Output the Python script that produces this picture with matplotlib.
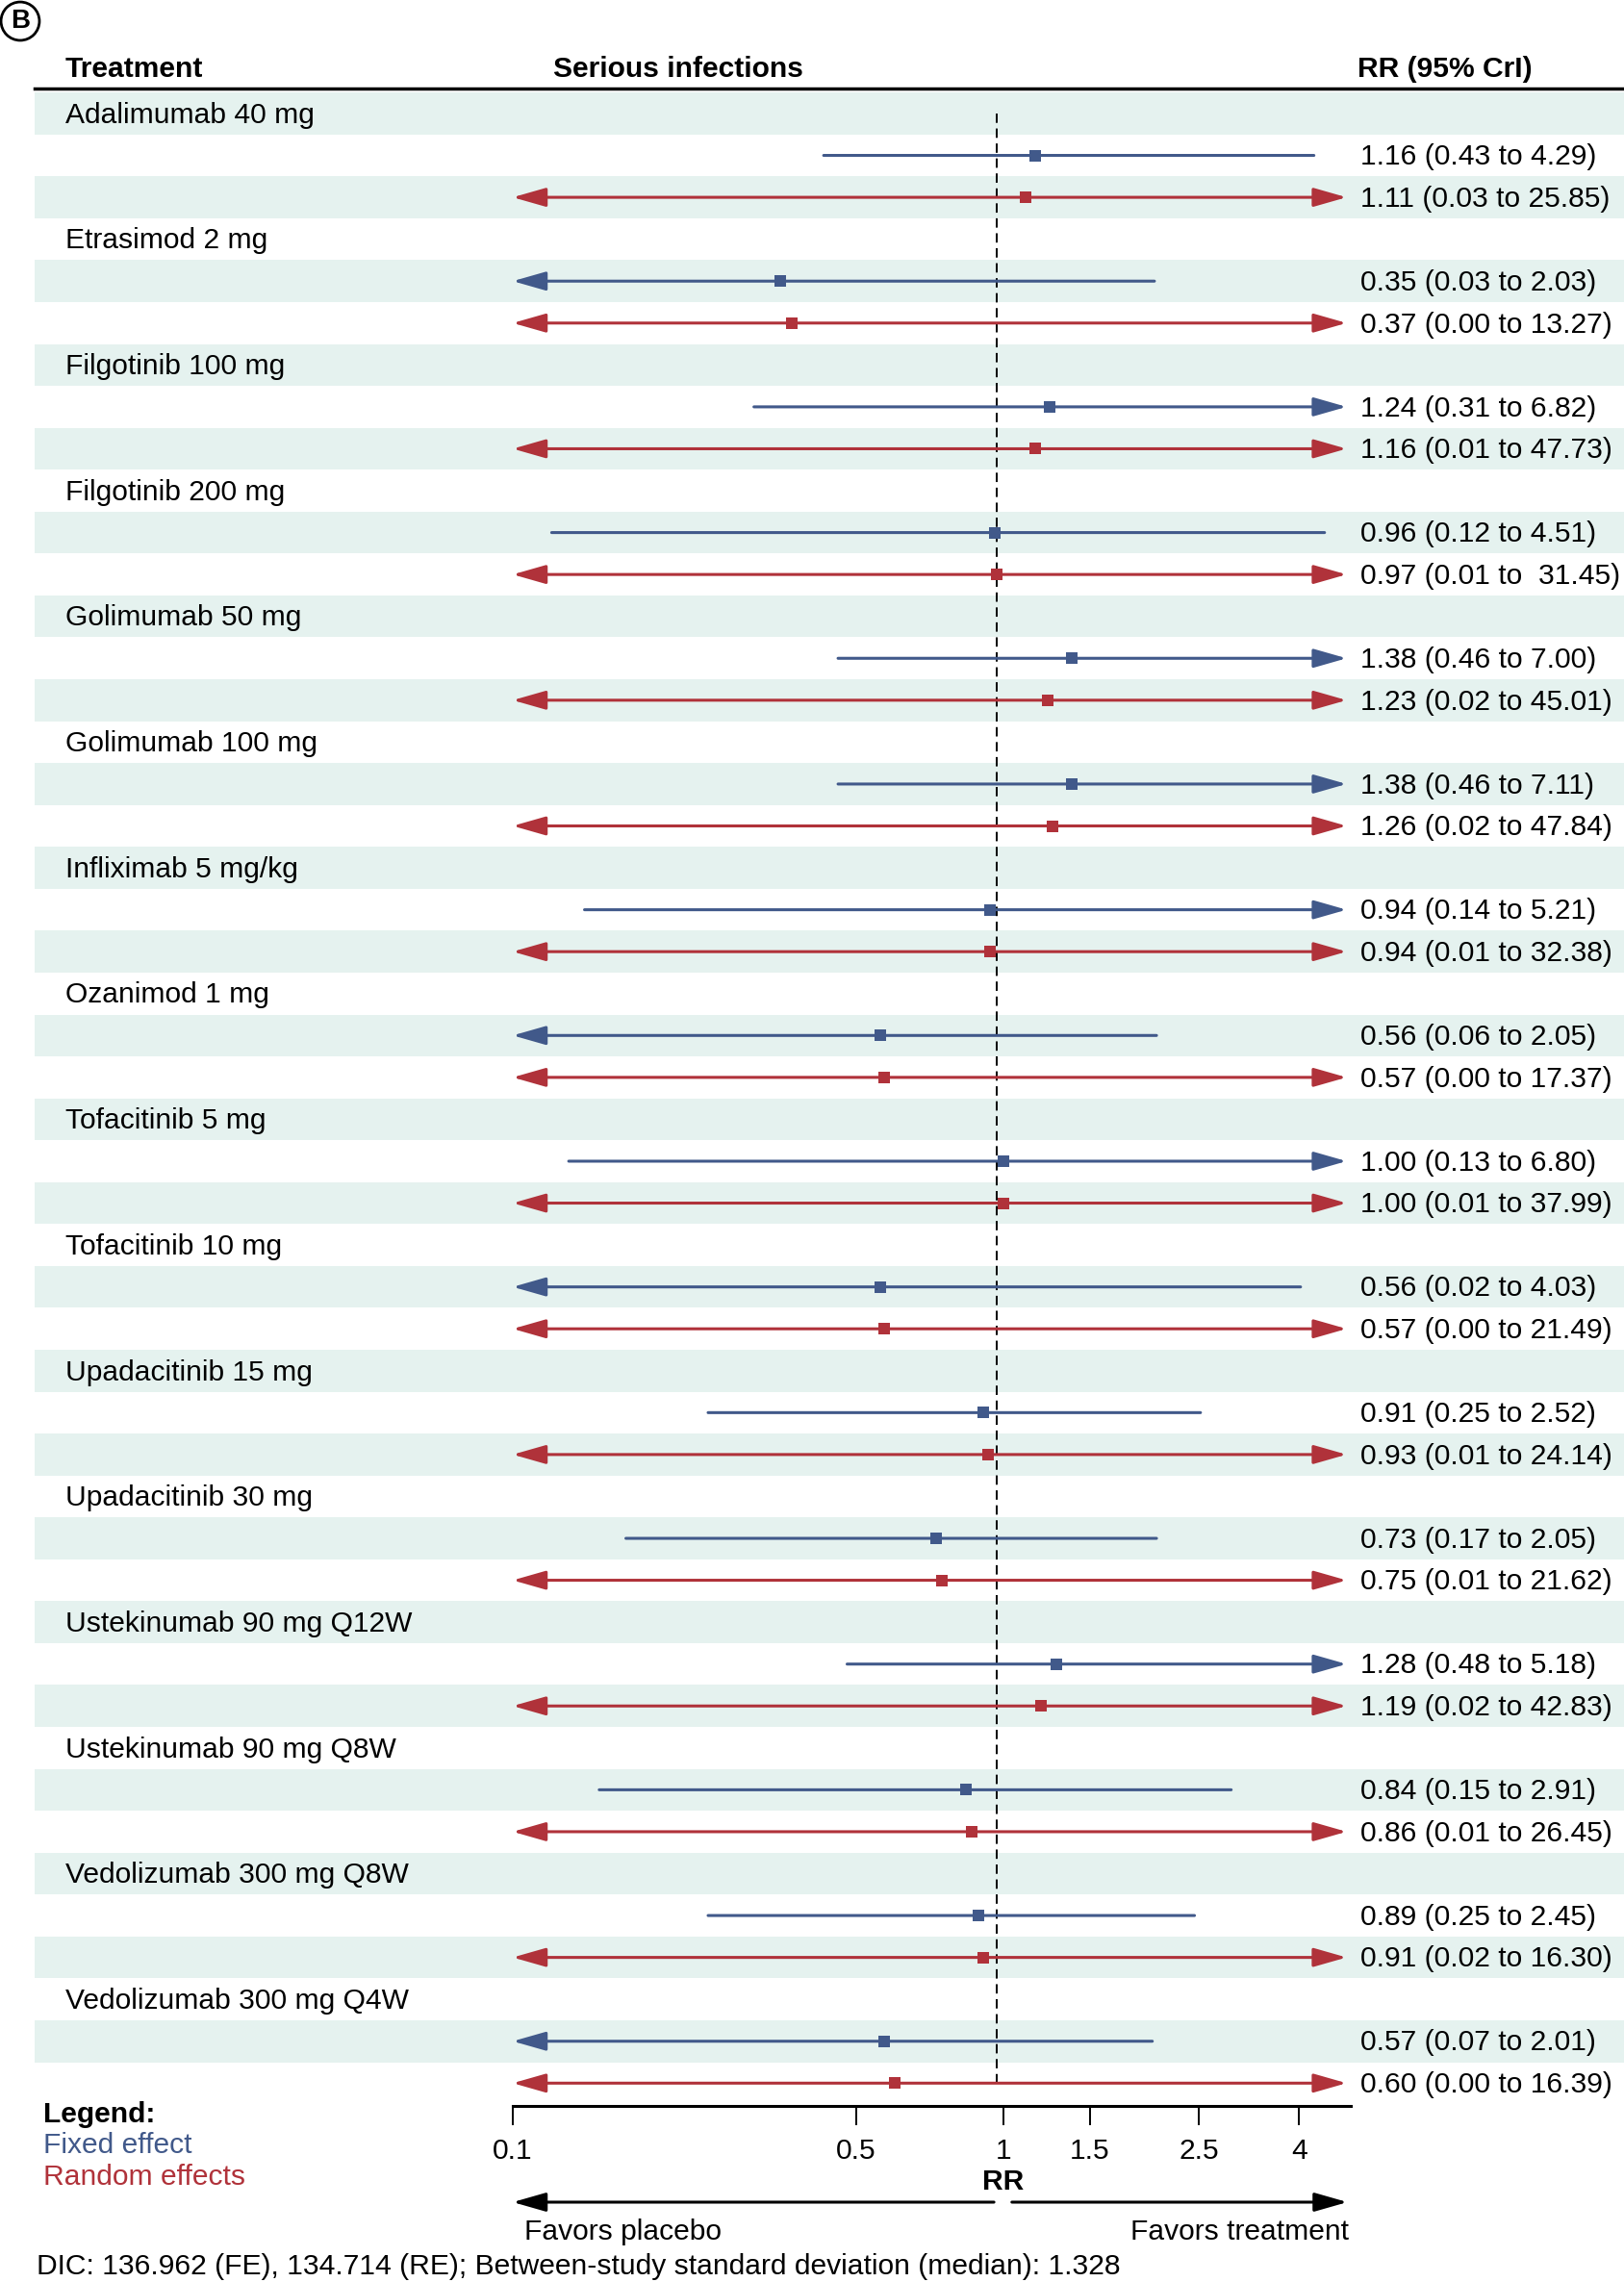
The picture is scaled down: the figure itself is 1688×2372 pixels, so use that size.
import numpy as np
import matplotlib.pyplot as plt
from matplotlib import transforms
from matplotlib.lines import Line2D
from matplotlib.ticker import NullLocator

plt.rcParams['font.family'] = ['Liberation Sans', 'DejaVu Sans']

treatments = ['Adalimumab 40 mg', 'Etrasimod 2 mg', 'Filgotinib 100 mg', 'Filgotinib 200 mg',
              'Golimumab 50 mg', 'Golimumab 100 mg', 'Infliximab 5 mg/kg', 'Ozanimod 1 mg',
              'Tofacitinib 5 mg', 'Tofacitinib 10 mg', 'Upadacitinib 15 mg', 'Upadacitinib 30 mg',
              'Ustekinumab 90 mg Q12W', 'Ustekinumab 90 mg Q8W', 'Vedolizumab 300 mg Q8W',
              'Vedolizumab 300 mg Q4W']

# fixed effect
fe_rr = [1.16, 0.35, 1.24, 0.96, 1.38, 1.38, 0.94, 0.56, 1.00, 0.56, 0.91, 0.73, 1.28, 0.84, 0.89, 0.57]
fe_lo = [0.43, 0.03, 0.31, 0.12, 0.46, 0.46, 0.14, 0.06, 0.13, 0.02, 0.25, 0.17, 0.48, 0.15, 0.25, 0.07]
fe_hi = [4.29, 2.03, 6.82, 4.51, 7.00, 7.11, 5.21, 2.05, 6.80, 4.03, 2.52, 2.05, 5.18, 2.91, 2.45, 2.01]

# random effects
re_rr = [1.11, 0.37, 1.16, 0.97, 1.23, 1.26, 0.94, 0.57, 1.00, 0.57, 0.93, 0.75, 1.19, 0.86, 0.91, 0.60]
re_lo = [0.03, 0.00, 0.01, 0.01, 0.02, 0.02, 0.01, 0.00, 0.01, 0.00, 0.01, 0.01, 0.02, 0.01, 0.02, 0.00]
re_hi = [25.85, 13.27, 47.73, 31.45, 45.01, 47.84, 32.38, 17.37, 37.99, 21.49, 24.14, 21.62, 42.83,
         26.45, 16.30, 16.39]

fe_text = ['%.2f (%.2f to %.2f)' % v for v in zip(fe_rr, fe_lo, fe_hi)]
re_text = ['%.2f (%.2f to %.2f)' % v for v in zip(re_rr, re_lo, re_hi)]
re_text[3] = '0.97 (0.01 to  31.45)'

tick_vals = [0.1, 0.5, 1, 1.5, 2.5, 4]
tick_labels = ['0.1', '0.5', '1', '1.5', '2.5', '4']

blue = '#41598a'
red = '#b0323a'
shade = '#e5f2ef'
fs = 21.6

W, H = 1688, 2372
fig = plt.figure(figsize=(W / 100, H / 100), dpi=100)

# layout (pixels)
row_h = 43.56
y_top = 96.2
x0_px, x1_px = 533, 1404
x_min, x_max = 0.1, 5.1
clip_lo, clip_hi = 0.1, 5.0
n_rows = 3 * len(treatments)
y_last = 47.55
ax_bot_px = y_top + (y_last + 0.5) * row_h
txt_dy = 0.04  # small nudge so text sits like the original

ax = fig.add_axes([x0_px / W, 1 - ax_bot_px / H, (x1_px - x0_px) / W, (ax_bot_px - y_top) / H])
ax.set_xscale('log')
ax.set_xlim(x_min, x_max)
ax.set_ylim(y_last, -0.5)
ax.patch.set_visible(False)

# stripes
span = x1_px - x0_px
for i in range(0, n_rows, 2):
    ax.axhspan(i - 0.5, i + 0.5, xmin=(36 - x0_px) / span, xmax=(W - x0_px) / span,
               color=shade, lw=0, clip_on=False, zorder=0)

trans = transforms.blended_transform_factory(fig.transFigure, ax.transData)
head = ',head_length=1.05,head_width=0.3'


def draw_ci(y, rr, lo, hi, c):
    left = lo < clip_lo
    right = hi > clip_hi
    a = max(lo, clip_lo)
    b = min(hi, clip_hi)
    if left and right:
        style = '<|-|>' + head
    elif left:
        style = '<|-' + head
    elif right:
        style = '-|>' + head
    else:
        style = '-'
    ax.annotate('', xy=(b, y), xytext=(a, y),
                arrowprops=dict(arrowstyle=style, mutation_scale=20, color=c, lw=2.2,
                                shrinkA=0, shrinkB=0), zorder=3)
    ax.plot(rr, y, marker='s', ms=8, color=c, mew=0, zorder=4)


for k, name in enumerate(treatments):
    yl = 3 * k
    ax.text(68 / W, yl + txt_dy, name, transform=trans, va='center', ha='left', fontsize=fs)
    draw_ci(yl + 1, fe_rr[k], fe_lo[k], fe_hi[k], blue)
    draw_ci(yl + 2, re_rr[k], re_lo[k], re_hi[k], red)
    ax.text(1414 / W, yl + 1 + txt_dy, fe_text[k], transform=trans, va='center', ha='left', fontsize=fs)
    ax.text(1414 / W, yl + 2 + txt_dy, re_text[k], transform=trans, va='center', ha='left', fontsize=fs)

# reference line
ax.plot([0.967, 0.967], [0, n_rows - 1], color='k', lw=1.4, ls=(0, (5, 3)), zorder=2)

# x axis
for s in ['top', 'left', 'right']:
    ax.spines[s].set_visible(False)
ax.spines['bottom'].set_linewidth(2.2)
ax.set_xticks(tick_vals, tick_labels)
ax.xaxis.set_minor_locator(NullLocator())
ax.tick_params(axis='x', length=14.4, width=1.4, pad=9, labelsize=fs, direction='out')
ax.set_yticks([])

# headers
fig.text(21 / W, 1 - 22 / H, 'B', fontsize=20, weight='bold', ha='center', va='center',
         bbox=dict(boxstyle='circle,pad=0.25', fc='white', ec='k', lw=2))
fig.text(68 / W, 1 - 72 / H, 'Treatment', fontsize=fs, weight='bold', va='center')
fig.text(575 / W, 1 - 72 / H, 'Serious infections', fontsize=fs, weight='bold', va='center')
fig.text(1411 / W, 1 - 72 / H, 'RR (95% CrI)', fontsize=fs, weight='bold', va='center')
fig.add_artist(Line2D([36 / W, 1], [1 - 92 / H, 1 - 92 / H], color='k', lw=2.5))

# bottom annotations
fig.text(1043 / W, 1 - 2268 / H, 'RR', fontsize=fs, weight='bold', ha='center', va='center')
ya = 1 - 2289 / H
arr = dict(arrowstyle='-|>' + head, mutation_scale=20, color='k', lw=2.2, shrinkA=0, shrinkB=0)
ax.annotate('', xy=(0.1, ya), xytext=(0.956, ya), xycoords=('data', 'figure fraction'),
            textcoords=('data', 'figure fraction'), arrowprops=arr, annotation_clip=False)
ax.annotate('', xy=(5.02, ya), xytext=(1.04, ya), xycoords=('data', 'figure fraction'),
            textcoords=('data', 'figure fraction'), arrowprops=arr, annotation_clip=False)
fig.text(545 / W, 1 - 2320 / H, 'Favors placebo', fontsize=fs, ha='left', va='center')
fig.text(1402 / W, 1 - 2320 / H, 'Favors treatment', fontsize=fs, ha='right', va='center')

fig.text(45 / W, 1 - 2198 / H, 'Legend:', fontsize=fs, weight='bold', va='center')
fig.text(45 / W, 1 - 2230 / H, 'Fixed effect', fontsize=fs, color=blue, va='center')
fig.text(45 / W, 1 - 2263 / H, 'Random effects', fontsize=fs, color=red, va='center')

fig.text(38 / W, 1 - 2356 / H,
         'DIC: 136.962 (FE), 134.714 (RE); Between-study standard deviation (median): 1.328',
         fontsize=fs, va='center')

fig.savefig('out.png', dpi=100)
